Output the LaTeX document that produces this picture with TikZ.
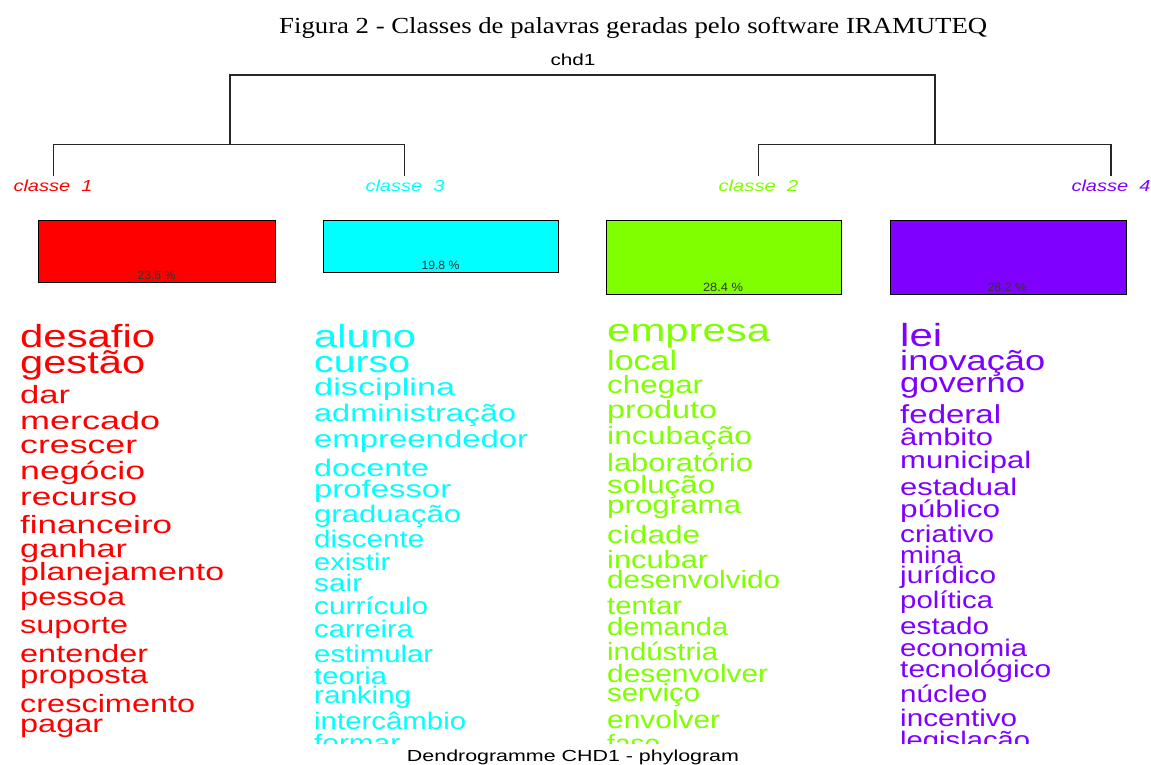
\documentclass[tikz,border=0pt]{standalone}
\usepackage{fontspec}
\setmainfont{Liberation Serif}
\newfontfamily\arialf{Liberation Sans}
\usepackage{graphicx}
\definecolor{cR}{HTML}{FF0000}
\definecolor{cC}{HTML}{00FFFF}
\definecolor{cG}{HTML}{7FFF00}
\definecolor{cP}{HTML}{8000FF}
\newcommand\fitw[3]{\resizebox{#1pt}{\height}{\fontsize{#2}{#2}\selectfont #3}}
\begin{document}
\begin{tikzpicture}[x=1pt,y=-1pt,
  dline/.style={draw=black!85, line width=1.2pt},
  cbox/.style={draw=black, line width=1.2pt, inner sep=0pt, anchor=north west},
  word/.style={anchor=base west, inner sep=0pt, font=\arialf},
  pct/.style={anchor=base, inner sep=0pt, font=\arialf, text=black!80},
  clab/.style={anchor=base, inner sep=0pt, font=\arialf\itshape}]
\useasboundingbox (0,0) rectangle (1151,764);
\fill[white] (0,0) rectangle (1151,764);
% title
\node[anchor=base west, inner sep=0pt] (title) at (279,33) {\fitw{708}{23}{Figura 2 - Classes de palavras geradas pelo software IRAMUTEQ}};
\node[anchor=base, inner sep=0pt, font=\arialf] (chd) at (573,65) {\fitw{45}{16}{chd1}};
% dendrogram
\coordinate (rootl) at (230,75);
\coordinate (rootr) at (935,75);
\coordinate (n13) at (230,144.5);
\coordinate (n24) at (935,144.5);
\coordinate (l1) at (53.5,176);
\coordinate (l3) at (404.5,176);
\coordinate (l2) at (758.5,176);
\coordinate (l4) at (1111,176);
\draw[dline] (n13) |- (rootr) -- (n24);
\draw[dline] (l1) |- (n13) -| (l3);
\draw[dline] (l2) |- (n24) -| (l4);
% class labels
\node[clab, text=cR] (k1) at (53,191) {\fitw{79}{16}{classe~~1}};
\node[clab, text=cC] (k3) at (405,191) {\fitw{79}{16}{classe~~3}};
\node[clab, text=cG] (k2) at (758.5,191) {\fitw{80}{16}{classe~~2}};
\node[clab, text=cP] (k4) at (1111,191) {\fitw{79}{16}{classe~~4}};
% boxes
\node[cbox, fill=cR, minimum width=237pt, minimum height=62pt] (b1) at (38,220) {};
\node[cbox, fill=cC, minimum width=235pt, minimum height=52pt] (b3) at (323,220) {};
\node[cbox, fill=cG, minimum width=235pt, minimum height=74pt] (b2) at (606,220) {};
\node[cbox, fill=cP, minimum width=236pt, minimum height=74pt] (b4) at (890,220) {};
\node[pct] (p1) at (156.5,279) {\fitw{38}{12}{23.6 \%}};
\node[pct] (p3) at (440.5,269.5) {\fitw{38}{12}{19.8 \%}};
\node[pct] (p2) at (723,291) {\fitw{40}{12}{28.4 \%}};
\node[pct] (p4) at (1007,291) {\fitw{39}{12}{28.2 \%}};
% words
\begin{scope}
\clip (0,300) rectangle (1151,743.5);
\foreach \tx/\ww/\yy/\sz [count=\i] in {desafio/135/347/32, gestão/125/373/32, dar/50/403/25, mercado/140/429/25, crescer/117/453/25, negócio/125/479/25, recurso/117/505/25, financeiro/152/533/25, ganhar/107/557/25, planejamento/204/580/25, pessoa/105/605/25, suporte/108/633/25, entender/128/662/25, proposta/128/683/25, crescimento/175/712/25, pagar/83/732/25}
  \node[word, text=cR] (r\i) at (20,\yy) {\fitw{\ww}{\sz}{\tx}};
\foreach \tx/\ww/\yy/\sz [count=\i] in {aluno/102/347/32, curso/96/372/30, disciplina/141/395/24, administração/202/421/24, empreendedor/214/447/24, docente/115/476/24, professor/137/497/24, graduação/147/522/24, discente/110/547/24, existir/76/570/24, sair/48/591/24, currículo/114/614/24, carreira/99/637/24, estimular/119/662/24, teoria/73/684/24, ranking/97/703/24, intercâmbio/152/729/24, formar/86/751/24}
  \node[word, text=cC] (c\i) at (314,\yy) {\fitw{\ww}{\sz}{\tx}};
\foreach \tx/\ww/\yy/\sz [count=\i] in {empresa/163/341/32, local/70/370/28, chegar/96/393/25, produto/110/418/25, incubação/145/444/25, laboratório/146/471/25, solução/108/493/25, programa/134/513/25, cidade/93/543/25, incubar/101/568/25, desenvolvido/173/588/25, tentar/75/614/25, demanda/121/635/25, indústria/111/660/25, desenvolver/161/682/25, serviço/93/701/25, envolver/113/728/25, fase/53/752/25}
  \node[word, text=cG] (g\i) at (607,\yy) {\fitw{\ww}{\sz}{\tx}};
\foreach \tx/\ww/\yy/\sz [count=\i] in {lei/42/346/32, inovação/145/370/28, governo/125/392/28, federal/101/423/26, âmbito/93/445/24, municipal/131/468/24, estadual/117/495/24, público/100/517/24, criativo/94/542/24, mina/62/563/24, jurídico/96/583/24, política/93/608/24, estado/89/634/24, economia/127/656/24, tecnológico/151/677/24, núcleo/87/702/24, incentivo/117/726/24, legislação/130/748/24}
  \node[word, text=cP] (v\i) at (900,\yy) {\fitw{\ww}{\sz}{\tx}};
\end{scope}
% caption
\node[anchor=base, inner sep=0pt, font=\arialf] (cap) at (573,761) {\fitw{332}{16}{Dendrogramme CHD1 - phylogram}};
\end{tikzpicture}
\end{document}
